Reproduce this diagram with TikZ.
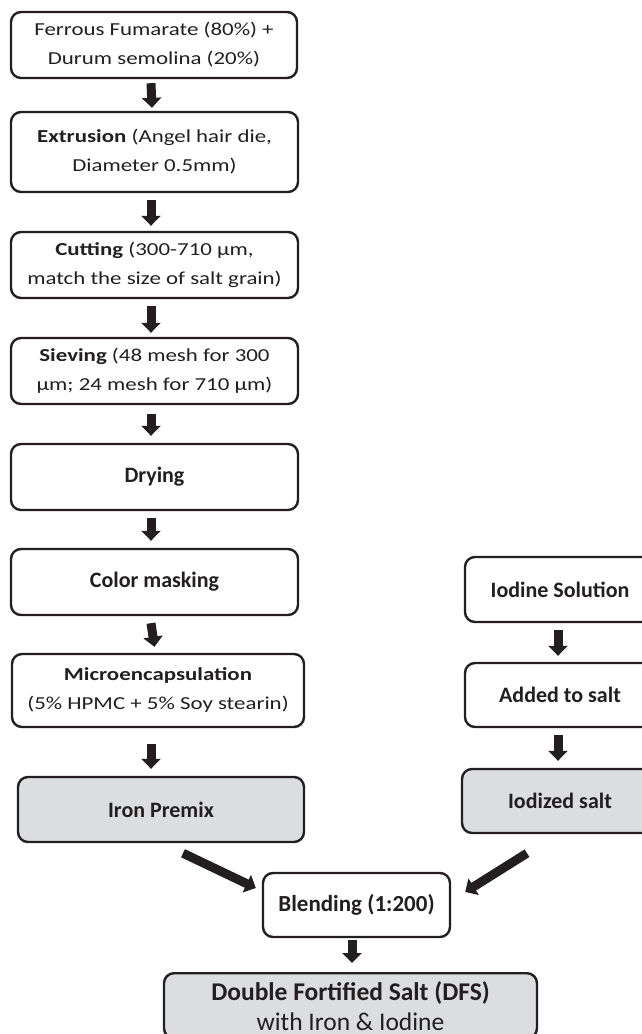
\documentclass[tikz,border=0pt]{standalone}
\usepackage{fontspec}
\setmainfont{Carlito}
\newfontfamily\widefont[FakeStretch=1.25]{Carlito}
\usetikzlibrary{arrows.meta}
\definecolor{ink}{HTML}{231F20}
\definecolor{boxgray}{HTML}{DCDDDF}
\begin{document}
\begin{tikzpicture}[x=1pt,y=-1pt,
  box/.style={draw=ink, line width=2.4pt, rounded corners=10pt, fill=white, text=ink, align=center, inner sep=0pt},
  grey/.style={fill=boxgray},
  small/.style={font=\widefont\fontsize{18.3}{29}\selectfont},
  big/.style={font=\fontsize{22}{26}\selectfont\bfseries},
  blendfont/.style={font=\fontsize{23}{26}\selectfont\bfseries},
  dfsfont/.style={font=\fontsize{25.5}{30}\selectfont},
  arr/.style={draw=ink, line width=9pt, -{Triangle[width=19pt,length=10pt]}}
]
\useasboundingbox (0,0) rectangle (641,1034);
% left column
\node[box, small, minimum width=286pt, minimum height=66pt] (b1) at (154,45) {Ferrous Fumarate (80\%) +\\Durum semolina (20\%)};
\node[box, small, minimum width=287pt, minimum height=80pt] (b2) at (154.5,152) {\textbf{Extrusion} (Angel hair die,\\Diameter 0.5mm)};
\node[box, small, minimum width=287pt, minimum height=66pt] (b3) at (154.5,265) {\textbf{Cutting} (300-710 µm,\\match the size of salt grain)};
\node[box, small, minimum width=287pt, minimum height=66pt] (b4) at (154.5,371) {\textbf{Sieving} (48 mesh for 300\\µm; 24 mesh for 710 µm)};
\node[box, big, minimum width=287pt, minimum height=66pt] (b5) at (154.5,477) {Drying};
\node[box, big, minimum width=287pt, minimum height=66pt] (b6) at (154.5,582) {Color masking};
\node[box, small, minimum width=292pt, minimum height=73pt] (b7) at (158,690.5) {\textbf{Microencapsulation}\\(5\% HPMC + 5\% Soy stearin)};
\node[box, grey, big, minimum width=286pt, minimum height=65pt] (ip) at (161,809.5) {Iron Premix};
% right column
\node[box, big, minimum width=190pt, minimum height=65pt] (is) at (560,589.5) {Iodine Solution};
\node[box, big, minimum width=190pt, minimum height=64pt] (ad) at (560,695) {Added to salt};
\node[box, grey, big, minimum width=196pt, minimum height=64pt] (iz) at (560,801) {Iodized salt};
% bottom
\node[box, blendfont, minimum width=187pt, minimum height=64pt] (bl) at (356.5,905) {Blending (1:200)};
\node[box, grey, dfsfont, minimum width=373pt, inner xsep=0pt, inner ysep=8pt, anchor=north] (dfs) at (350.5,972) {\textbf{Double Fortified Salt (DFS)}\\with Iron \& Iodine};
% arrows
\draw[arr] ([xshift=-3pt,yshift=-4pt]b1.south) -- ([xshift=-2.5pt,yshift=3pt]b2.north);
\draw[arr] ([xshift=-3.5pt,yshift=-7pt]b2.south) -- ([xshift=-3.5pt,yshift=5pt]b3.north);
\draw[arr] ([xshift=-3.5pt,yshift=-7pt]b3.south) -- ([xshift=-3.5pt,yshift=4pt]b4.north);
\draw[arr] ([xshift=-3.5pt,yshift=-9pt]b4.south) -- ([xshift=-3.5pt,yshift=7pt]b5.north);
\draw[arr] ([xshift=-3.5pt,yshift=-7pt]b5.south) -- ([xshift=-3.5pt,yshift=7pt]b6.north);
\draw[arr] ([xshift=-3.5pt,yshift=-7pt]b6.south) -- ([xshift=-3.5pt,yshift=6pt]b7.north);
\draw[arr] ([xshift=-7pt,yshift=-16pt]b7.south) -- ([xshift=-10pt,yshift=7pt]ip.north);
\draw[arr] ([xshift=-2pt,yshift=-7pt]is.south) -- ([xshift=-2pt,yshift=6pt]ad.north);
\draw[arr] ([xshift=-2pt,yshift=-7pt]ad.south) -- ([xshift=-2pt,yshift=7pt]iz.north);
\draw[arr] ([xshift=22pt,yshift=-10pt]ip.south) -- ([xshift=-6pt,yshift=17pt]bl.west);
\draw[arr] ([xshift=-33pt,yshift=-19pt]iz.south) -- ([xshift=14pt,yshift=13pt]bl.east);
\draw[arr] ([xshift=-4.5pt,yshift=-2pt]bl.south) -- ([xshift=1.5pt,yshift=9pt]dfs.north);
\end{tikzpicture}
\end{document}
